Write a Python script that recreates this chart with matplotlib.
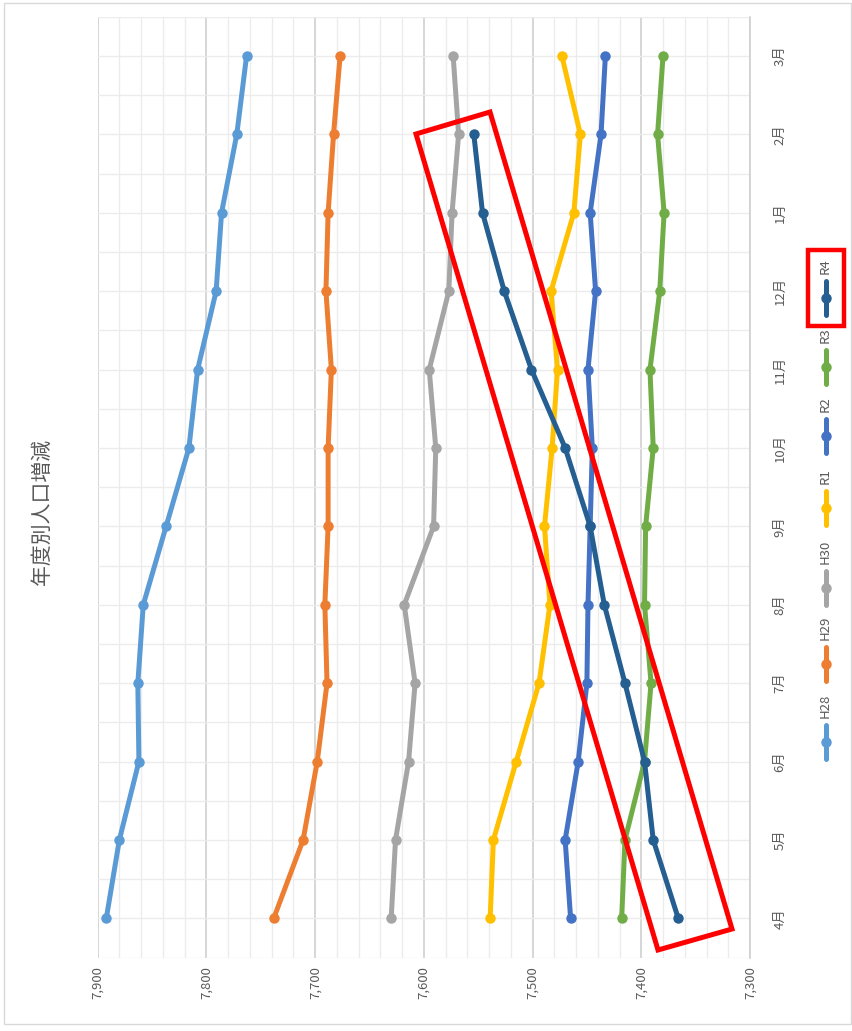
import matplotlib
matplotlib.use("Agg")
import matplotlib.pyplot as plt
from matplotlib.lines import Line2D
from matplotlib.patches import Polygon, Rectangle
from matplotlib.ticker import MultipleLocator, FuncFormatter

plt.rcParams['font.family'] = ['Noto Sans CJK JP', 'DejaVu Sans']

title = "年度別人口増減"
months = ["4月", "5月", "6月", "7月", "8月", "9月", "10月", "11月", "12月", "1月", "2月", "3月"]
series_names = ["H28", "H29", "H30", "R1", "R2", "R3", "R4"]
colors = ["#5B9BD5", "#ED7D31", "#A5A5A5", "#FFC000", "#4472C4", "#70AD47", "#255E91"]

H28 = [7892, 7880, 7862, 7863, 7858, 7837, 7816, 7808, 7791, 7786, 7772, 7763]
H29 = [7738, 7711, 7698, 7689, 7691, 7688, 7688, 7685, 7690, 7688, 7683, 7677]
H30 = [7630, 7626, 7614, 7608, 7618, 7591, 7589, 7595, 7577, 7574, 7568, 7573]
R1 = [7539, 7536, 7515, 7494, 7484, 7489, 7482, 7477, 7483, 7462, 7456, 7473]
R2 = [7465, 7470, 7458, 7450, 7449, 7447, 7445, 7449, 7442, 7447, 7437, 7433]
R3 = [7418, 7415, 7397, 7391, 7397, 7396, 7389, 7392, 7383, 7379, 7385, 7380]
R4 = [7366, 7389, 7397, 7415, 7434, 7447, 7470, 7501, 7526, 7546, 7554]
series = [H28, H29, H30, R1, R2, R3, R4]

value_ticks = [7900, 7800, 7700, 7600, 7500, 7400, 7300]

W, H = 852, 1031
fig = plt.figure(figsize=(W / 100, H / 100), dpi=100)


def fx(x):
    return x / W


def fy(y):
    return (H - y) / H


# axes: plot area in pixel coords (left 97.6, right 750, top 16.8, bottom 957.5)
ax = fig.add_axes([fx(97.6), fy(957.5), fx(750 - 97.6), (957.5 - 16.8) / H])

for name, vals, c in zip(series_names, series, colors):
    ax.plot(vals, list(range(len(vals))), color=c, lw=3.6, marker='o', ms=6.5,
            solid_capstyle='round', solid_joinstyle='round', zorder=3, label=name)

ax.set_xlim(max(value_ticks), min(value_ticks))
ax.set_ylim(-0.5, len(months) - 0.5)

ax.set_xticks(value_ticks)
ax.xaxis.set_major_formatter(FuncFormatter(lambda v, p: f"{int(v):,}"))
ax.xaxis.set_minor_locator(MultipleLocator(20))
ax.set_yticks(range(len(months)))
ax.set_yticklabels(months)
ax.set_yticks([i + 0.5 for i in range(-1, len(months))], minor=True)
ax.yaxis.tick_right()

for lab in ax.get_xticklabels():
    lab.set_rotation(90)
for lab in ax.get_yticklabels():
    lab.set_rotation(90)
    lab.set_va('center')

ax.tick_params(axis='x', which='both', length=0, pad=6, labelsize=9.5, labelcolor='#595959')
ax.tick_params(axis='y', which='both', length=0, pad=17, labelsize=9.5, labelcolor='#595959')

ax.grid(True, axis='x', which='major', color='#d0d0d0', lw=1.2, zorder=0)
ax.grid(True, axis='x', which='minor', color='#ececec', lw=1.0, zorder=0)
ax.grid(True, axis='y', which='both', color='#ececec', lw=1.0, zorder=0)
ax.set_axisbelow(True)

for s in ['top', 'bottom', 'left']:
    ax.spines[s].set_visible(False)
ax.spines['right'].set_color('#d0d0d0')
ax.spines['right'].set_linewidth(1.2)

# title (rotated)
fig.text(fx(42), fy(512), title, rotation=90, ha='center', va='center',
         fontsize=15, color='#595959')

# legend drawn vertically on the right
legend_marker_y = [742, 664, 588, 508, 436, 367, 298]
lx = 826
for name, c, my in zip(series_names, colors, legend_marker_y):
    fig.add_artist(Line2D([fx(lx), fx(lx)], [fy(my + 17), fy(my - 17)], color=c, lw=3.6,
                          solid_capstyle='round', transform=fig.transFigure))
    fig.add_artist(Line2D([fx(lx)], [fy(my)], color=c, marker='o', ms=6.5,
                          transform=fig.transFigure))
    fig.text(fx(lx - 0.5), fy(my - 24), name, rotation=90, ha='center', va='bottom',
             fontsize=9.5, color='#595959')

# red highlight boxes
fig.add_artist(Polygon([(fx(416), fy(134)), (fx(490), fy(112)), (fx(732), fy(929)),
                        (fx(658), fy(950))], closed=True, fill=False, ec='#FF0000',
                       lw=3.6, transform=fig.transFigure, zorder=10))
fig.add_artist(Rectangle((fx(808), fy(326)), fx(844 - 808), (326 - 250) / H, fill=False,
                         ec='#FF0000', lw=3.2, transform=fig.transFigure, zorder=10))

# outer chart border
fig.add_artist(Rectangle((fx(4), fy(1024)), fx(851 - 4), (1024 - 3) / H, fill=False,
                         ec='#d9d9d9', lw=1.0, transform=fig.transFigure))

fig.savefig("out.png", dpi=100, facecolor='white')
